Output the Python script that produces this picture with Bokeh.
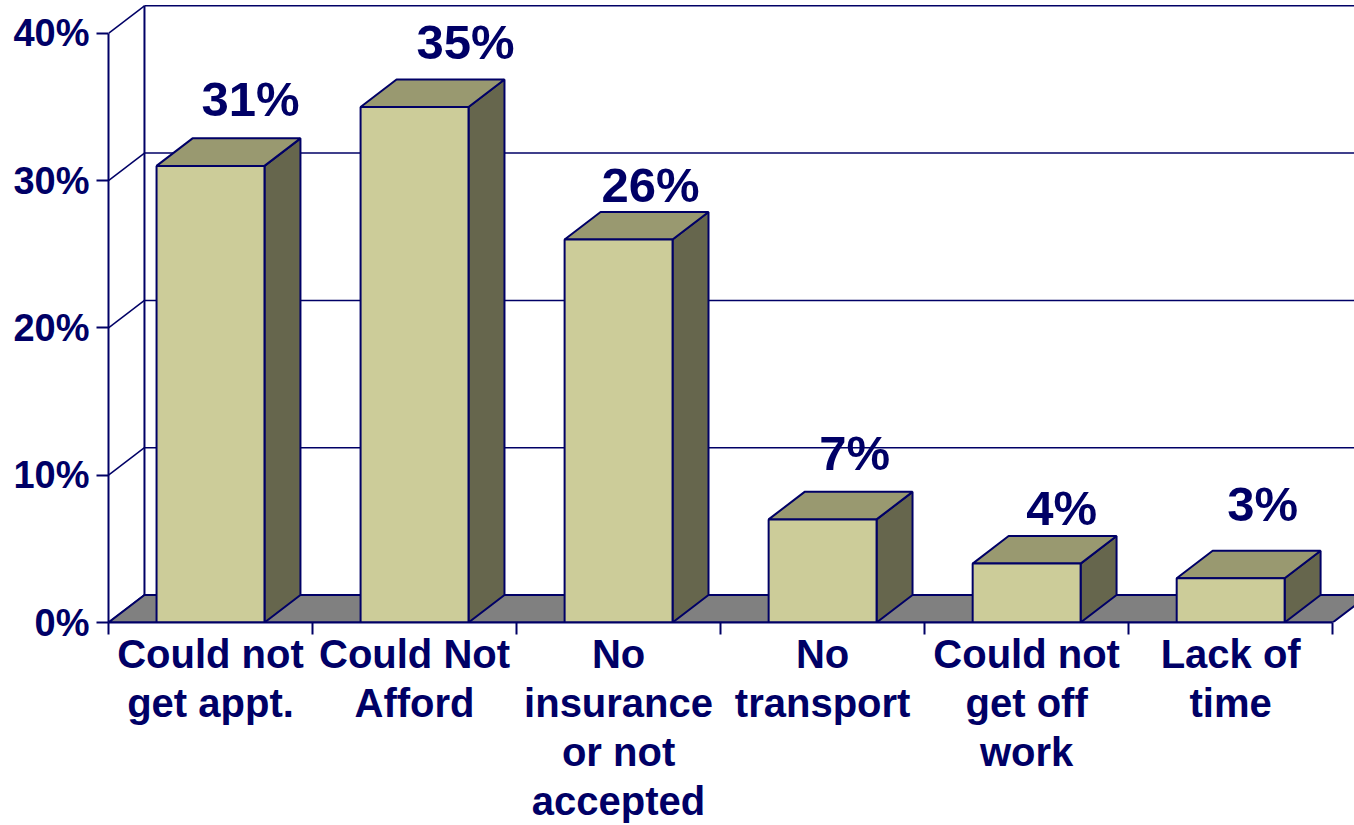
from bokeh.core.properties import value
from bokeh.embed import file_html
from bokeh.models import ColumnDataSource, FixedTicker, LinearAxis, Range1d
from bokeh.plotting import figure
from bokeh.resources import INLINE

categories = ["Could not\nget appt.", "Could Not\nAfford", "No\ninsurance\nor not\naccepted",
              "No\ntransport", "Could not\nget off\nwork", "Lack of\ntime"]
values = [31, 35, 26, 7, 4, 3]
bar_labels = ["31%", "35%", "26%", "7%", "4%", "3%"]
y_ticks = [0, 10, 20, 30, 40]
y_tick_labels = ["0%", "10%", "20%", "30%", "40%"]

# placement of the value labels relative to the bar's front-top centre (pixels)
label_dx = [40, 51, 32, 32, 35, 32]
label_dy = [-67, -65, -55, -66, -56, -74]

NAVY = "#000066"
FRONT = "#CCCC99"
TOP = "#999970"
SIDE = "#66664D"
FLOOR = "#808080"
FONT = "Liberation Sans"
DX = 36 / 204.2      # depth, in category widths
DY = 1.87            # depth, in percentage points
HALF = 0.2645        # half a bar width
X_END = 6.107
Y_END = 42.23

p = figure(width=1354, height=825, output_backend="svg", toolbar_location=None,
           x_range=Range1d(0, X_END), y_range=Range1d(0, Y_END),
           x_axis_location=None, y_axis_location=None,
           min_border_left=108, min_border_right=0, min_border_top=0, min_border_bottom=203,
           outline_line_color=None, background_fill_color="white", border_fill_color="white")
p.grid.visible = False

# back wall lines, from the left wall to the far right
p.segment(x0=[DX] * len(y_ticks), y0=[t + DY for t in y_ticks],
          x1=[X_END + 1] * len(y_ticks), y1=[t + DY for t in y_ticks],
          line_color=NAVY, line_width=1.5)
p.segment(x0=[DX], y0=[DY], x1=[DX], y1=[y_ticks[-1] + DY], line_color=NAVY, line_width=2)
p.segment(x0=[0] * len(y_ticks), y0=y_ticks, x1=[DX] * len(y_ticks),
          y1=[t + DY for t in y_ticks], line_color=NAVY, line_width=1.5)

# floor
n = len(categories)
p.patch(x=[0, n, n + DX, DX], y=[0, 0, DY, DY], fill_color=FLOOR, line_color=NAVY, line_width=2)

# 3-D bars
centers = [i + 0.5 for i in range(n)]
front_x, front_y, top_x, top_y, side_x, side_y = [], [], [], [], [], []
for c, v in zip(centers, values):
    l, r = c - HALF, c + HALF
    front_x.append([l, r, r, l])
    front_y.append([0, 0, v, v])
    top_x.append([l, r, r + DX, l + DX])
    top_y.append([v, v, v + DY, v + DY])
    side_x.append([r, r + DX, r + DX, r])
    side_y.append([0, DY, v + DY, v])
p.patches(side_x, side_y, fill_color=SIDE, line_color=NAVY, line_width=2)
p.patches(top_x, top_y, fill_color=TOP, line_color=NAVY, line_width=2)
p.patches(front_x, front_y, fill_color=FRONT, line_color=NAVY, line_width=2)

# value labels
src = ColumnDataSource(dict(x=centers, y=values, t=bar_labels, dx=label_dx, dy=label_dy))
p.text(x="x", y="y", text="t", x_offset="dx", y_offset="dy", source=src,
       text_align="center", text_baseline="alphabetic",
       text_font=value(FONT), text_font_style="bold", text_font_size="49px", text_color=NAVY)

# axes
yax = LinearAxis(ticker=FixedTicker(ticks=y_ticks), bounds=(0, 40),
                 major_label_overrides=dict(zip(y_ticks, y_tick_labels)),
                 major_label_text_font=FONT, major_label_text_font_style="bold",
                 major_label_text_font_size="38px", major_label_text_color=NAVY,
                 major_label_standoff=7, axis_line_color=NAVY, axis_line_width=2,
                 major_tick_line_color=NAVY, major_tick_line_width=2,
                 major_tick_in=0, major_tick_out=12, minor_tick_line_color=None)
p.add_layout(yax, "left")

xax = LinearAxis(ticker=FixedTicker(ticks=centers, minor_ticks=list(range(n + 1))), bounds=(0, n),
                 major_label_overrides=dict(zip(centers, categories)),
                 major_label_text_font=FONT, major_label_text_font_style="bold",
                 major_label_text_font_size="40px", major_label_text_color=NAVY,
                 major_label_text_line_height=1.115, major_label_standoff=-3,
                 axis_line_color=NAVY, axis_line_width=2,
                 major_tick_line_color=None, major_tick_in=0, major_tick_out=0,
                 minor_tick_line_color=NAVY, minor_tick_line_width=2,
                 minor_tick_in=0, minor_tick_out=12)
p.add_layout(xax, "below")

open("out.html", "w").write(file_html(p, INLINE))
